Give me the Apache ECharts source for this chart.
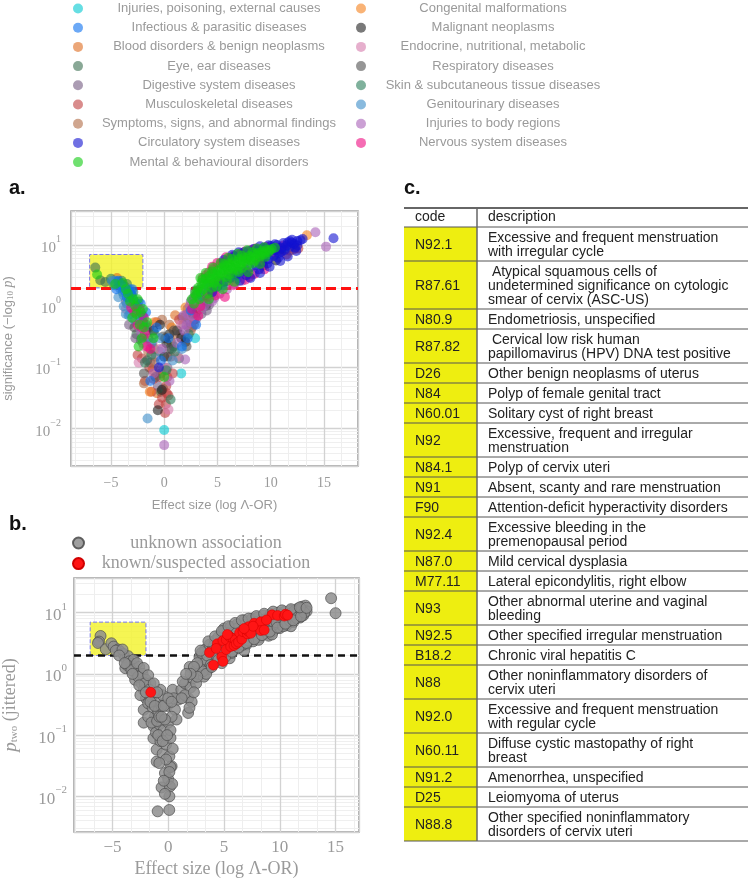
<!DOCTYPE html>
<html>
<head>
<meta charset="utf-8">
<script src="https://cdn.jsdelivr.net/npm/echarts@6/dist/echarts.min.js"></script>
<style>
html,body{margin:0;padding:0;background:#fff}
#main{width:750px;height:884px}
</style>
</head>
<body>
<div id="main"></div>
<script>
// categories shown in the legend of panel a
var catNames = [
    'Injuries, poisoning, external causes', 'Infectious & parasitic diseases',
    'Blood disorders & benign neoplasms', 'Eye, ear diseases', 'Digestive system diseases',
    'Musculoskeletal diseases', 'Symptoms, signs, and abnormal findings',
    'Circulatory system diseases', 'Mental & behavioural disorders',
    'Congenital malformations', 'Malignant neoplasms', 'Endocrine, nutritional, metabolic',
    'Respiratory diseases', 'Skin & subcutaneous tissue diseases', 'Genitourinary diseases',
    'Injuries to body regions', 'Nervous system diseases'
];
var catColors = [
    '#00c8d0', '#0a70f0', '#dd6a1e', '#3a6e50', '#735a80', '#c04040', '#b06a44',
    '#1010d0', '#10cc10', '#f5801a', '#202020', '#d57aac', '#505050', '#2a7d5a',
    '#3a8cc8', '#a860b8', '#ee0a80'
];

// panel a points: [effect size, significance]
var injPoison = [[0.0,0.0095],[2.6,0.63],[1.6,0.08],[-1.0,0.2],[3.1,0.9],[-0.4,0.18],[0.7,0.25],[2.9,0.3]];
var infectious = [[-4.0,2.2],[-3.7,1.8],[-3.0,1.5],[-2.8,1.2],[-2.0,0.7],[0.4,0.3],[-0.3,0.13],[1.66,0.22],
    [2.2,0.3],[3.0,0.5],[-1.3,0.06],[6.8,2.8],[8.3,3.3],[-0.7,0.45],[-3.5,1.4],
    [2.5,0.85],[3.5,1.5],[4.2,2.0],[5.5,2.2],[9.8,6.8],[11.4,9.1],[7.9,6.9],[-4.3,2.6],[-3.3,1.8],[-2.5,1.0],
    [-3.0,1.9],[-2.2,1.1],[-1.7,0.8],[-4.5,1.9]];
var blood = [[-4.43,2.9],[-0.68,0.038],[1.03,0.71],[-2.1,0.72],[0.6,0.27],[2.9,0.75],[-1.1,0.09],[3.5,1.0],[11.8,8.1],
    [3.1,1.2],[4.0,1.2],[6.0,2.4]];
var eyeEar = [[-6.47,4.27],[-5.53,2.49],[-6.0,2.65],[-4.1,2.34],[-2.6,0.35],[-1.7,0.5],[-0.3,0.04],[0.9,0.22],[-2.2,0.28],[1.4,0.14],
    [2.9,1.0],[3.8,1.45],[-0.1,0.045]];
var digestive = [[1.5,0.35],[1.8,0.5],[2.1,0.6],[2.4,0.8],[2.7,0.95],[3.0,0.8],[2.3,0.45],[3.3,1.1],[3.6,1.3],[2.0,0.3],
    [-0.8,0.15],[-1.3,0.12],[-0.3,0.08],[-2.0,0.25],[-1.5,0.3],[-3.6,1.2],[0.3,0.1],[4.3,1.4],[-0.6,0.05],
    [2.5,1.2],[2.8,1.4],[3.1,1.6],[3.4,1.9],[2.2,0.9],[2.6,0.45],[3.9,1.0],[4.6,1.6],[5.3,2.0],[3.2,1.3],
    [1.7,0.65],[2.9,1.8],[4.1,2.3],[-2.3,0.7],[-1.7,0.4],[-1.1,0.25],[-2.7,0.3],
    [3.5,0.75],[4.2,1.05],[2.8,0.5],[3.0,0.62],[4.0,0.85],[-1.4,0.45],[-1.9,0.3],[-3.3,0.5]];
var musculo = [[0.09,0.018],[0.25,0.038],[-1.0,0.065],[-1.8,0.06],[-0.5,0.025],[0.2,0.05],[0.8,0.08],[-1.4,0.1],[-2.5,0.16],
    [12.6,8.8],[11.5,7.0],[2.8,0.6],[-0.7,0.55],[1.4,0.6],[3.8,1.6],[-2.1,0.14],[0.4,0.035],
    [4.4,2.3],[6.5,3.0],[9.3,6.0],[10.8,8.0],[12.2,8.5],[-1.2,0.04],[-0.2,0.032],[0.6,0.15],
    [0.3,0.07],[-0.4,0.07],[0.15,0.025]];
var symptoms = [[-1.9,0.055],[-0.9,0.12],[0.5,0.5],[-2.7,0.6],[1.0,0.35],[2.5,0.4],[-0.2,0.6],[-1.5,0.18],[4.8,2.0],
    [3.3,0.9],[2.0,0.7],[5.9,3.3],[7.6,4.0],[-0.4,0.09],[-0.9,0.2]];
var circulatory = [[5.0,2.1],[5.6,2.5],[6.2,2.9],[6.8,3.3],[7.4,3.7],[8.0,4.2],[8.6,4.7],[9.2,5.3],[9.8,5.9],[10.3,6.6],
    [10.8,7.4],[11.3,8.3],[11.8,9.3],[12.2,10.4],[12.5,11.6],[10.0,9.6],[10.6,10.0],[11.2,10.8],[11.8,11.5],[9.3,8.9],
    [9.0,9.5],[8.4,8.6],[7.5,7.6],[10.4,8.2],[11.0,9.0],[15.9,12.9],[12.0,12.2],[4.5,1.7],[-0.5,0.1],
    [6.6,6.5],[7.9,8.0],[8.8,8.2],[9.5,7.2],[10.2,8.9],[11.5,9.8],[12.3,9.0],[11.0,7.8],[10.7,6.2],[9.7,5.0],
    [8.9,4.0],[7.7,3.2],[7.1,2.6],[12.0,10.9],[11.6,11.0],[10.4,10.3],[9.8,9.9],[12.5,9.8],[13.0,12.5],[12.8,12.0],
    [8.1,2.9],[9.0,3.5],[9.9,4.4],[10.9,5.5],[11.6,6.5],[12.4,8.0],[6.4,6.9],[7.0,7.6],[5.6,5.7]];
var mental = [[3.0,1.5],[3.2,2.0],[3.4,1.7],[3.5,2.4],[3.7,1.9],[3.9,2.8],[4.0,2.2],[4.2,3.1],[4.3,2.5],[4.5,2.0],
    [4.6,3.4],[4.8,2.8],[5.0,3.8],[5.1,3.1],[5.2,2.5],[5.4,4.2],[5.5,3.4],[5.7,4.6],[5.8,3.0],[6.0,3.9],
    [6.1,5.0],[6.3,4.3],[6.4,3.5],[6.6,5.4],[6.7,4.6],[6.9,3.9],[7.0,5.9],[7.2,5.0],[7.3,4.2],[7.5,6.2],
    [7.6,5.4],[7.8,4.7],[8.0,6.6],[8.1,5.7],[8.3,5.0],[8.5,7.0],[8.6,6.1],[8.8,7.4],[9.0,6.5],[9.2,7.9],
    [9.4,7.0],[9.6,8.3],[9.8,7.6],[4.1,1.6],[5.9,2.6],[2.8,1.1],[3.3,1.3],
    [3.6,2.7],[3.8,2.3],[4.4,2.8],[4.7,2.4],[4.9,3.3],[5.3,3.5],[5.6,3.9],[5.9,4.4],[6.2,4.7],[6.5,4.1],
    [6.8,5.1],[7.1,4.6],[7.4,5.5],[7.7,6.0],[8.2,6.3],[8.5,5.5],[8.9,6.9],[9.3,7.4],[9.5,6.4],[9.9,8.2],
    [10.1,8.6],[10.4,9.0],[4.5,3.7],[5.6,4.9],[6.4,5.9],[7.3,6.7],[8.3,7.6],[3.1,1.8],[2.6,1.3],[2.9,1.6],
    [4.9,2.1],[6.1,3.3],[7.0,3.6],
    [3.9,3.5],[4.6,4.3],[5.3,5.1],[6.0,6.2],[6.9,7.2],[7.8,8.2],[8.7,8.8],[9.4,9.2],[3.4,2.9],[4.2,1.3],
    [5.5,1.9],[6.6,2.5],[7.9,3.6],[9.0,4.9],
    [-6.3,3.3],[-4.6,2.3],[-3.4,1.6],[-2.9,1.3],[-2.7,1.0],[-2.2,0.8],[-2.4,0.22],[-1.9,0.45],[-1.0,0.3],[0.0,0.07],
    [-3.0,0.65],[-3.2,1.2],[-2.6,0.75],[-2.0,0.9],[-3.6,1.9],[-2.3,0.5],[-2.5,1.3],[-1.6,0.55],[-3.9,2.4],[-2.1,0.3]];
var congenital = [[13.4,14.4],[-1.35,0.04],[2.0,0.95],[-0.9,0.55],[0.7,0.45]];
var malignant = [[-0.22,0.043],[0.5,0.35],[0.2,0.25],[-1.0,0.4],[-0.4,0.5],[1.2,0.4],[2.0,0.26],[0.0,0.15],[-0.6,0.02],[9.3,4.6],
    [10.5,5.6],[1.6,0.3],[7.8,6.0],[11.0,8.6],[0.1,0.3]];
var endocrine = [[0.4,0.0205],[1.3,0.15],[-1.9,0.22],[-0.5,0.2],[2.6,0.7],[-2.4,0.12],[0.0,0.1],[1.6,0.5],[-3.6,0.9],[3.3,1.2],[4.7,1.9]];
var respiratory = [[0.9,0.4],[-0.1,0.32],[0.7,0.2],[2.1,0.22],[-1.6,0.13],[0.3,0.15],[-2.8,0.45],[-1.9,0.08],[2.7,0.75],[4.0,1.1],
    [-0.8,0.07],[0.5,0.2]];
var skin = [[-5.0,2.8],[-4.4,2.5],[-3.9,1.7],[-3.3,1.35],[-2.6,0.85],[-2.0,0.55],[-1.8,0.12],[-1.2,0.16],[0.2,0.09],[0.6,0.03],
    [1.0,0.18],[-0.9,0.35],[2.3,0.35],[3.4,1.4],[5.1,2.6],[-3.7,2.1],[-3.1,1.6],[-4.7,2.2],
    [-3.5,2.3],[-2.9,1.7],[-2.4,1.2],[-4.0,2.6]];
var genito = [[-3.34,0.71],[-1.56,0.0147],[-3.8,1.5],[-4.2,2.0],[-3.0,1.1],[-2.3,0.6],[1.66,0.2],[-0.4,0.3],[0.8,0.13],[-1.2,0.25],
    [-4.9,2.6],[-3.2,1.9],[-4.6,2.6],[-3.9,2.0],[-3.5,1.1],[-2.9,0.9],[-2.6,1.1],[-3.6,0.75],
    [-3.8,1.0],[-3.2,0.75],[-2.8,0.6],[-4.3,1.4]];
var injBody = [[2.5,0.55],[2.9,0.65],[3.5,0.9],[1.9,0.4],[14.2,16.1],[15.2,9.4],[0.0,0.0054],[1.97,0.135],[-1.0,0.08],[-0.2,0.2],
    [3.8,1.05],[4.5,1.2],[2.2,0.75],[1.2,0.25],[-2.2,0.4],[0.5,0.06],
    [2.4,1.0],[2.7,1.25],[3.0,1.05],[3.3,1.5],[3.7,1.7],[4.1,1.9],[4.9,2.4],[5.6,2.9],[6.3,3.1],[1.8,0.7],[2.1,0.5],[3.6,2.2],[6.9,3.6],
    [4.7,1.35],[5.2,1.6],[5.9,1.9],[6.6,2.3],[7.3,2.6]];
var nervous = [[5.7,1.42],[4.0,1.4],[6.5,6.6],[7.2,7.3],[8.2,8.3],[3.6,2.9],[5.3,4.9],[9.0,6.0],[10.2,7.6],[4.8,1.5],
    [2.6,0.9],[3.2,0.7],[-2.5,0.5],[-1.8,0.35],[-1.3,0.2],[11.2,9.8],[7.8,3.6],[6.0,5.8],[8.9,5.1],
    [3.4,1.0],[4.4,1.8],[5.0,2.6],[6.2,6.2],[7.0,6.9],[7.6,7.8],[8.6,8.8],[9.6,9.4],[10.6,9.0],[5.5,5.2],
    [4.6,4.0],[3.9,3.2],[6.5,2.2],[8.0,3.0],[-2.8,0.8],[-2.1,0.45],[-1.6,0.22],
    [7.6,2.7],[8.5,3.4],[9.4,4.0],[4.2,3.6],[5.0,5.1],[5.8,6.3],[4.5,4.4],[-2.3,0.9],[-1.9,0.65],[-3.1,0.95]];
var catData = [injPoison, infectious, blood, eyeEar, digestive, musculo, symptoms, circulatory, mental,
    congenital, malignant, endocrine, respiratory, skin, genito, injBody, nervous];
// order in which categories are painted (last on top)
var drawOrder = [0, 2, 3, 4, 5, 6, 9, 10, 11, 12, 13, 14, 15, 1, 16, 7, 8];

// panel b points: [effect size, p_two jittered]
var unknownAssoc = [[-6.07,4.16],[-6.2,3.37],[-6.3,3.2],[-5.6,2.53],[-5.1,3.16],[-4.9,2.79],[-4.5,2.5],[-4.3,2.31],[-4.0,2.1],
    [-3.85,1.8],[-3.6,1.95],[-3.5,1.6],[-3.85,1.24],[-3.3,1.45],[-3.1,1.7],[-3.0,1.2],[-2.97,0.8],[-2.8,1.05],[-2.6,1.3],
    [-2.5,0.9],[-2.4,0.7],[-2.2,0.55],[-2.3,1.0],[-2.0,0.8],[-1.9,0.62],[-2.2,0.26],[-2.0,0.4],[-1.8,0.33],[-1.6,0.7],
    [-1.5,0.42],[-1.4,0.28],[-2.2,0.16],[-1.33,0.14],[-1.2,0.2],[-1.0,0.35],[-0.9,0.25],[-1.33,0.089],[-1.1,0.11],
    [-0.8,0.15],[-1.04,0.058],[-0.7,0.08],[-1.04,0.037],[-0.5,0.05],[-0.3,0.024],[-0.4,0.12],[-0.2,0.07],[0.0,0.019],
    [-0.6,0.014],[0.15,0.0145],[-0.95,0.0057],[0.09,0.006],[0.3,0.031],[0.1,0.045],[0.2,0.09],[0.0,0.16],[-0.1,0.3],
    [0.6,0.26],[0.9,0.38],[0.74,0.18],[0.4,0.55],[-0.5,0.45],[-0.7,0.55],[-1.3,0.5],[0.3,0.2],[0.2,0.03],[0.4,0.06],
    [1.18,0.55],[1.5,0.7],[1.78,0.23],[1.8,0.4],[1.92,1.3],[2.0,0.6],[2.2,0.85],[2.5,0.7],[2.4,1.1],[2.8,1.9],
    [2.7,1.0],[3.0,1.4],[3.2,0.9],[3.3,2.5],[3.4,1.7],[3.0,2.2],[3.6,1.2],[3.7,3.0],[3.9,2.0],[4.0,2.6],
    [4.2,3.5],[4.3,1.6],[4.5,4.0],[4.6,2.2],[4.8,4.6],[5.0,2.9],[5.0,5.5],[5.2,2.0],[5.4,3.8],[5.6,5.9],
    [5.8,2.5],[6.0,4.6],[6.2,6.5],[6.3,2.6],[6.5,3.6],[6.6,5.5],[6.8,7.5],[7.0,3.0],[7.0,4.2],[7.3,6.5],
    [7.5,7.9],[7.6,3.4],[7.8,5.3],[8.0,8.3],[8.2,4.0],[8.4,6.3],[8.6,9.0],[8.8,4.5],[9.0,7.2],[9.2,9.5],
    [9.4,5.0],[9.6,8.0],[9.8,10.0],[10.0,5.6],[10.2,7.2],[10.4,10.3],[10.6,6.2],[10.8,8.6],[11.0,10.8],[11.2,7.0],
    [11.4,9.4],[11.6,11.6],[11.8,8.3],[12.0,12.5],[12.1,9.0],[12.3,13.0],[12.4,10.5],[14.6,17.2],[15.0,9.8],
    [5.5,1.8],[4.8,1.5],[6.8,2.4],[9.0,4.2],[11.0,6.0],[7.5,5.5],[9.5,6.5],[5.9,4.0],
    [3.5,2.0],[3.8,1.4],[4.1,2.9],[4.4,1.9],[4.7,3.0],[4.9,2.2],[5.3,4.6],[5.5,3.0],[5.7,2.2],[6.1,5.4],
    [6.4,4.0],[6.7,3.0],[6.9,6.3],[7.2,3.5],[7.5,4.8],[7.9,7.0],[8.1,3.6],[8.3,5.6],[8.7,7.8],[8.9,5.0],
    [9.1,8.4],[9.3,4.4],[9.7,7.0],[10.1,9.2],[10.3,6.0],[10.7,9.6],[10.9,7.4],[11.3,10.6],[11.5,8.2],[11.9,11.6],
    [12.2,10.0],[3.1,1.1],[2.9,2.4],[2.6,1.5],[2.3,1.3],[1.5,0.45],[2.1,0.35],[1.3,0.75],[-3.7,1.4],[-3.3,1.15],
    [-2.7,0.9],[-2.1,0.7],[-1.7,0.55],[-2.5,0.45],[-1.8,0.2],[-1.5,0.16],[-1.0,0.17],[-0.6,0.3],[-0.8,0.2],[-0.3,0.18],
    [0.2,0.12],[0.5,0.4],[-0.2,0.04],[-0.8,0.035],[0.1,0.01],[-0.3,0.011],[0.35,0.016],[-4.7,2.4],[-4.1,2.5],
    [3.4,1.0],[3.9,1.3],[4.5,1.7],[5.1,1.9],[5.7,2.3],[6.3,2.7],[7.0,3.2],[7.7,3.7],[8.4,4.3],[9.1,4.9],
    [9.8,5.7],[10.5,6.6],[11.2,7.5],[11.9,8.7],[3.6,3.4],[4.2,4.1],[4.8,5.0],[5.4,6.0],[6.0,6.8],[6.6,7.5],
    [7.2,8.0],[7.9,8.8],[8.6,9.6],[9.4,10.4],[10.2,10.9],[11.0,11.4],[11.8,12.2],[12.4,12.0],[2.6,0.9],[2.0,1.0],
    [1.6,1.0],[2.3,0.5],[1.9,0.28],[1.2,0.4],[-4.4,2.0],[-3.9,1.5],[-3.2,1.0],[-2.6,0.65],[-2.0,0.5],[-1.6,0.35],
    [-2.8,1.5],[-2.2,1.25],[-1.8,0.95],[-1.3,0.7],[-1.0,0.5],[-1.2,0.3],[-0.6,0.2],[-0.4,0.3],[0.0,0.4],[0.3,0.35],
    [-0.9,0.1],[-0.5,0.08],[-0.1,0.1],[0.1,0.025],[-0.4,0.018]];
var knownAssoc = [[3.7,2.23],[4.05,1.39],[4.8,1.9],[4.9,1.6],[4.4,3.1],[4.3,2.6],[4.9,3.5],[5.2,2.5],[5.2,3.6],[5.5,4.06],
    [5.6,2.8],[5.8,3.8],[5.9,2.9],[6.0,3.6],[6.1,3.1],[6.3,3.3],[6.4,4.7],[6.6,3.7],[6.7,4.9],[7.1,4.5],
    [7.2,5.9],[7.1,5.1],[7.4,4.6],[7.7,6.7],[8.0,5.9],[8.3,7.1],[8.3,5.1],[8.6,5.2],[9.3,9.2],[9.8,9.0],
    [10.4,8.8],[10.5,9.4],[10.7,9.1],[-1.57,0.5],[5.3,4.4],[7.6,6.0],[8.8,7.6],[6.8,5.5]];

var sigThreshold = 2;
var boxX = [-7, -2];
var boxY = [2, 7];

// panel c table
var codes = ['N92.1','R87.61','N80.9','R87.82','D26','N84','N60.01','N92','N84.1','N91','F90','N92.4',
    'N87.0','M77.11','N93','N92.5','B18.2','N88','N92.0','N60.11','N91.2','D25','N88.8'];
var descriptions = [
    'Excessive and frequent menstruation\nwith irregular cycle',
    ' Atypical squamous cells of\nundetermined significance on cytologic\nsmear of cervix (ASC-US)',
    'Endometriosis, unspecified',
    ' Cervical low risk human\npapillomavirus (HPV) DNA test positive',
    'Other benign neoplasms of uterus',
    'Polyp of female genital tract',
    'Solitary cyst of right breast',
    'Excessive, frequent and irregular\nmenstruation',
    'Polyp of cervix uteri',
    'Absent, scanty and rare menstruation',
    'Attention-deficit hyperactivity disorders',
    'Excessive bleeding in the\npremenopausal period',
    'Mild cervical dysplasia',
    'Lateral epicondylitis, right elbow',
    'Other abnormal uterine and vaginal\nbleeding',
    'Other specified irregular menstruation',
    'Chronic viral hepatitis C',
    'Other noninflammatory disorders of\ncervix uteri',
    'Excessive and frequent menstruation\nwith regular cycle',
    'Diffuse cystic mastopathy of right\nbreast',
    'Amenorrhea, unspecified',
    'Leiomyoma of uterus',
    'Other specified noninflammatory\ndisorders of cervix uteri'
];

var gray = '#9a9a9a';
var serif = '"Liberation Serif", "DejaVu Serif", serif';
var sans = '"Liberation Sans", Arial, sans-serif';

function powLabel(v) {
    var e = Math.round(Math.log10(v));
    return '{b|10}{s|' + (e < 0 ? '\u2212' + (-e) : e) + '}';
}
function minusLabel(v) {
    return v < 0 ? '\u2212' + (-v) : '' + v;
}

function buildTable() {
    var els = [];
    var left = 404, right = 748, colX = 477, top = 208, headH = 19;
    els.push({type: 'text', x: 415, y: top + headH / 2, style: {text: 'code', fontSize: 14, fontFamily: sans, fill: '#222', verticalAlign: 'middle'}});
    els.push({type: 'text', x: 488, y: top + headH / 2, style: {text: 'description', fontSize: 14, fontFamily: sans, fill: '#222', verticalAlign: 'middle'}});
    var y = top + headH;
    var lines = [top + headH];
    for (var i = 0; i < codes.length; i++) {
        var n = descriptions[i].split('\n').length;
        var h = 6 + 14 * n;
        els.push({type: 'rect', shape: {x: left, y: y, width: colX - left, height: h}, style: {fill: '#eeee10'}, z: 1});
        els.push({type: 'text', x: 415, y: y + h / 2 + 1, z: 3, style: {text: codes[i], fontSize: 14, fontFamily: sans, fill: '#222', verticalAlign: 'middle'}});
        els.push({type: 'text', x: 488, y: y + h / 2 + 1, z: 3, style: {text: descriptions[i], fontSize: 14, lineHeight: 14, fontFamily: sans, fill: '#222', verticalAlign: 'middle'}});
        y += h;
        lines.push(y);
    }
    els.push({type: 'line', shape: {x1: left, y1: top, x2: right, y2: top}, style: {stroke: '#333', lineWidth: 1.5}, z: 2});
    lines.forEach(function (ly) {
        els.push({type: 'line', shape: {x1: left, y1: ly, x2: right, y2: ly}, style: {stroke: '#555', lineWidth: 1}, z: 2});
    });
    els.push({type: 'line', shape: {x1: colX, y1: top, x2: colX, y2: y}, style: {stroke: '#666', lineWidth: 1.5}, z: 2});
    return els;
}

var titles = [
    {type: 'text', x: 9, y: 178, style: {text: 'a.', fontSize: 20, fontWeight: 'bold', fontFamily: sans, fill: '#111'}},
    {type: 'text', x: 9, y: 514, style: {text: 'b.', fontSize: 20, fontWeight: 'bold', fontFamily: sans, fill: '#111'}},
    {type: 'text', x: 404, y: 178, style: {text: 'c.', fontSize: 20, fontWeight: 'bold', fontFamily: sans, fill: '#111'}}
];

function xAxisCfg(idx, min, max, labelSize, nameCfg) {
    return {
        gridIndex: idx, type: 'value', min: min, max: max, splitNumber: 5,
        axisLine: {show: false}, axisTick: {show: false},
        axisLabel: {showMinLabel: false, showMaxLabel: false, color: gray, fontFamily: serif,
            fontSize: labelSize, margin: idx === 0 ? 10 : 7, formatter: minusLabel},
        splitLine: {lineStyle: {color: '#d2d2d2', width: 1.3}},
        minorTick: {show: false, splitNumber: 3},
        minorSplitLine: {show: true, lineStyle: {color: '#eeeeee', width: 1}},
        name: nameCfg.text, nameLocation: 'middle', nameGap: nameCfg.gap,
        nameTextStyle: nameCfg.style
    };
}
function yAxisCfg(idx, min, max, labelSize, nameCfg) {
    return {
        gridIndex: idx, type: 'log', logBase: 10, min: min, max: max,
        axisLine: {show: false}, axisTick: {show: false},
        axisLabel: {showMinLabel: false, showMaxLabel: false, margin: idx === 0 ? 10 : 7,
            formatter: powLabel,
            rich: {
                b: {fontSize: labelSize, fontFamily: serif, color: gray, lineHeight: labelSize + 6, verticalAlign: 'bottom'},
                s: {fontSize: Math.round(labelSize * 0.65), fontFamily: serif, color: gray, lineHeight: labelSize * 0.7, verticalAlign: 'top'}
            }},
        splitLine: {lineStyle: {color: '#d2d2d2', width: 1.3}},
        minorTick: {show: false, splitNumber: 9},
        minorSplitLine: {show: true, lineStyle: {color: '#efefef', width: 1}},
        name: nameCfg.text, nameLocation: 'middle', nameGap: nameCfg.gap, nameRotate: 90,
        nameTextStyle: nameCfg.style
    };
}

var seriesA = drawOrder.map(function (ci) {
    return {
        name: catNames[ci], type: 'scatter', xAxisIndex: 0, yAxisIndex: 0,
        symbolSize: 10, data: catData[ci], z: 2,
        itemStyle: {color: catColors[ci], opacity: 0.6}
    };
});
// helper series that carries the threshold line and highlighted box
seriesA.unshift({
    name: 'markersA', type: 'scatter', xAxisIndex: 0, yAxisIndex: 0, data: [], z: 1,
    markLine: {silent: true, symbol: 'none', z: 1, label: {show: false},
        lineStyle: {color: '#ff1010', type: [10, 5], width: 3}, data: [{yAxis: sigThreshold}]},
    markArea: {silent: true, z: 1,
        itemStyle: {color: 'rgba(242,242,40,0.8)', borderColor: '#7777ee', borderWidth: 1, borderType: 'dashed'},
        data: [[{xAxis: boxX[0], yAxis: boxY[0]}, {xAxis: boxX[1], yAxis: boxY[1]}]]}
});

var seriesB = [
    {
        name: 'markersB', type: 'scatter', xAxisIndex: 1, yAxisIndex: 1, data: [], z: 1,
        markLine: {silent: true, symbol: 'none', z: 1, label: {show: false},
            lineStyle: {color: '#111', type: [7, 5], width: 2.5}, data: [{yAxis: sigThreshold}]},
        markArea: {silent: true, z: 1,
            itemStyle: {color: 'rgba(242,242,40,0.8)', borderColor: '#7777ee', borderWidth: 1, borderType: 'dashed'},
            data: [[{xAxis: boxX[0], yAxis: boxY[0]}, {xAxis: boxX[1], yAxis: boxY[1]}]]}
    },
    {
        name: 'unknown association', type: 'scatter', xAxisIndex: 1, yAxisIndex: 1, z: 2,
        symbolSize: 11, data: unknownAssoc,
        itemStyle: {color: '#8e8e8e', borderColor: '#4a4a4a', borderWidth: 0.8, opacity: 0.85}
    },
    {
        name: 'known/suspected association', type: 'scatter', xAxisIndex: 1, yAxisIndex: 1, z: 3,
        symbolSize: 10, data: knownAssoc,
        itemStyle: {color: '#ff1515', borderColor: '#d00000', borderWidth: 0.5, opacity: 1}
    }
];

function legendCfg(names, left, top, width, gap, font) {
    return {
        data: names, orient: 'vertical', left: left, top: top, padding: 0,
        itemWidth: font.icon, itemHeight: font.icon, itemGap: gap,
        icon: 'circle', selectedMode: false,
        formatter: function (name) { return '{t|' + name + '}'; },
        textStyle: {rich: {t: {width: width, align: 'center', fontSize: font.size, lineHeight: font.lh,
            fontFamily: font.family, color: gray}}}
    };
}

var chart = echarts.init(document.getElementById('main'));
var option = {
    backgroundColor: '#fff',
    animation: false,
    graphic: {elements: titles.concat(buildTable())},
    legend: [
        legendCfg(catNames.slice(0, 9), 73, 2, 262, 6.2, {icon: 10, size: 13, lh: 12, family: sans}),
        legendCfg(catNames.slice(9), 356, 2, 244, 6.2, {icon: 10, size: 13, lh: 12, family: sans}),
        legendCfg(['unknown association', 'known/suspected association'], 72, 534, 234, 2.6,
            {icon: 11, size: 18, lh: 20, family: serif})
    ],
    grid: [
        {left: 71, top: 211, width: 287, height: 255, show: true, borderColor: '#999', borderWidth: 1.5, backgroundColor: 'transparent'},
        {left: 72, top: 578, width: 287, height: 254, show: true, borderColor: '#999', borderWidth: 1.5, backgroundColor: 'transparent'}
    ],
    xAxis: [
        xAxisCfg(0, -8.75, 18.2, 14, {text: 'Effect size (log \u039b-OR)', gap: 33,
            style: {color: gray, fontSize: 13, fontFamily: sans}}),
        xAxisCfg(1, -8.45, 17.1, 17, {text: 'Effect size (log \u039b-OR)', gap: 28,
            style: {color: gray, fontSize: 18, fontFamily: serif}})
    ],
    yAxis: [
        yAxisCfg(0, 0.00246, 35.9, 15, {text: 'significance (\u2212log{sub|10} {it|p})', gap: 56,
            style: {color: gray, fontSize: 13, fontFamily: sans,
                rich: {sub: {fontSize: 9, fontFamily: serif, color: gray, verticalAlign: 'bottom', lineHeight: 12},
                       it: {fontSize: 14, fontFamily: serif, fontStyle: 'italic', color: gray}}}}),
        yAxisCfg(1, 0.00262, 36.8, 17, {text: '{it|p}{sub|two} (jittered)', gap: 54,
            style: {color: gray, fontSize: 18, fontFamily: serif,
                rich: {it: {fontSize: 19, fontFamily: serif, fontStyle: 'italic', color: gray},
                       sub: {fontSize: 11, fontFamily: serif, color: gray, verticalAlign: 'bottom', lineHeight: 14}}}})
    ],
    series: seriesA.concat(seriesB)
};
chart.setOption(option);
</script>
</body>
</html>
